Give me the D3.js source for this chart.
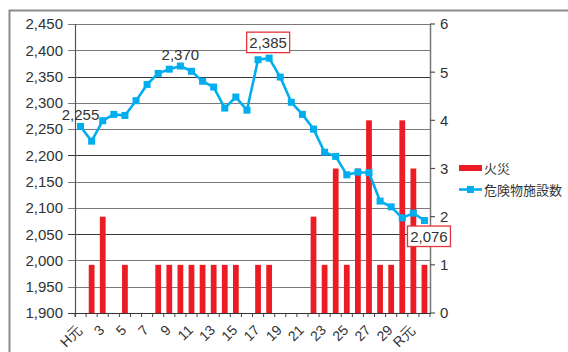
<!DOCTYPE html>
<html><head><meta charset="utf-8">
<script src="https://cdn.jsdelivr.net/npm/d3@7/dist/d3.min.js"></script>
<style>
html,body{margin:0;padding:0;background:#fff;}
svg{display:block;font-family:"Liberation Sans",Arial,sans-serif;}
</style></head>
<body>
<svg id="chart" width="568" height="352"></svg>
<script>
const categories = ["H元","2","3","4","5","6","7","8","9","10","11","12","13","14","15","16","17","18","19","20","21","22","23","24","25","26","27","28","29","30","R元","2"];
const fires = [0,1,2,0,1,0,0,1,1,1,1,1,1,1,1,0,1,1,0,0,0,2,1,3,1,3,4,1,1,4,3,1];
const facilities = [2255,2227,2266,2278,2276,2304,2335,2356,2364,2370,2360,2341,2330,2290,2311,2286,2382,2385,2349,2301,2278,2250,2206,2198,2163,2168,2167,2113,2102,2081,2090,2076];
const leftTicks = [1900,1950,2000,2050,2100,2150,2200,2250,2300,2350,2400,2450];
const rightTicks = [0,1,2,3,4,5,6];
const seriesNames = ["火災","危険物施設数"];
const plainLabels = [0, 9];       // indices with plain value labels
const boxedLabels = [17, 31];     // indices with boxed value labels

const svg = d3.select("#chart");
const L = 75, R = 430, T = 24, B = 313;
const textCol = "#333";

// outer frame
svg.append("path").attr("d", `M9.5,360V10.5H580`).attr("fill","none").attr("stroke","#8c8c8c").attr("stroke-width",2);

const x = d3.scaleBand().domain(d3.range(categories.length)).range([L, R]).paddingInner(0).paddingOuter(0);
const yL = d3.scaleLinear().domain([1900, 2450]).range([B, T]);
const yR = d3.scaleLinear().domain([0, 6]).range([B, T]);

// gridlines
svg.append("g").selectAll("line").data(leftTicks).join("line")
  .attr("x1", L - 7).attr("x2", R)
  .attr("y1", d => Math.round(yL(d)) + 0.5).attr("y2", d => Math.round(yL(d)) + 0.5)
  .attr("stroke", (d,i) => i % 3 === 0 ? "#3a3a3a" : "#7a7a7a").attr("stroke-width", 1.2);

// left axis labels
svg.append("g").selectAll("text").data(leftTicks).join("text")
  .attr("x", L - 12).attr("y", d => yL(d)).attr("dy", "0.36em")
  .attr("text-anchor", "end").attr("font-size", 15).attr("fill", textCol)
  .text(d => d3.format(",")(d));

// bars
const bw = x.bandwidth() * 0.52;
svg.append("g").selectAll("rect").data(fires).join("rect")
  .attr("x", (d,i) => x(i) + (x.bandwidth() - bw) / 2)
  .attr("width", bw)
  .attr("y", d => yR(d)).attr("height", d => yR(0) - yR(d))
  .attr("fill", "#ec1c24");

// axis lines
svg.append("line").attr("x1", L + 0.5).attr("x2", L + 0.5).attr("y1", T).attr("y2", B + 4).attr("stroke", "#555").attr("stroke-width", 1.2);
svg.append("line").attr("x1", R + 0.5).attr("x2", R + 0.5).attr("y1", T).attr("y2", B).attr("stroke", "#777").attr("stroke-width", 1.5);
svg.append("line").attr("x1", L).attr("x2", R + 1).attr("y1", B + 0.5).attr("y2", B + 0.5).attr("stroke", "#333").attr("stroke-width", 1.2);

// x tick marks at band boundaries
svg.append("g").selectAll("line").data(d3.range(categories.length + 1)).join("line")
  .attr("x1", i => L + i * x.step()).attr("x2", i => L + i * x.step())
  .attr("y1", B).attr("y2", B + 4).attr("stroke", "#444").attr("stroke-width", 1);

// right axis ticks and labels
svg.append("g").selectAll("line").data(rightTicks).join("line")
  .attr("x1", R).attr("x2", R + 5).attr("y1", d => yR(d)).attr("y2", d => yR(d))
  .attr("stroke", "#555").attr("stroke-width", 1.2);
svg.append("g").selectAll("text").data(rightTicks).join("text")
  .attr("x", R + 10).attr("y", d => yR(d)).attr("dy", "0.36em")
  .attr("font-size", 15).attr("fill", textCol).text(d => d);

// x labels
svg.append("g").selectAll("text").data(d3.range(0, categories.length, 2)).join("text")
  .attr("transform", i => `translate(${x(i) + x.bandwidth()/2 - 5},${B + 10.5}) rotate(-45)`)
  .attr("text-anchor", "end").attr("dy", "0.75em")
  .attr("font-size", 14).attr("fill", textCol)
  .text(i => categories[i]);

// line
const cx = i => x(i) + x.bandwidth() / 2;
svg.append("path").datum(facilities)
  .attr("d", d3.line().x((d,i) => cx(i)).y(d => yL(d)))
  .attr("fill", "none").attr("stroke", "#00aeef").attr("stroke-width", 2.6).attr("stroke-linejoin", "round");
const ms = 7;
svg.append("g").selectAll("rect").data(facilities).join("rect")
  .attr("x", (d,i) => cx(i) - ms/2).attr("y", d => yL(d) - ms/2)
  .attr("width", ms).attr("height", ms).attr("fill", "#00aeef");

// plain data labels
svg.append("g").selectAll("text").data(plainLabels).join("text")
  .attr("x", i => cx(i)).attr("y", i => yL(facilities[i]) - 6)
  .attr("text-anchor", "middle").attr("font-size", 15).attr("fill", textCol)
  .text(i => d3.format(",")(facilities[i]));

// boxed data labels
boxedLabels.forEach((i, k) => {
  const above = k === 0;
  const bwid = 43, bh = 20.5;
  const bx = cx(i) + (above ? -1 : 4.5) - bwid / 2;
  const by = above ? yL(facilities[i]) - 5.5 - bh : yL(facilities[i]) + 5.5;
  svg.append("rect").attr("x", bx).attr("y", by).attr("width", bwid).attr("height", bh)
    .attr("fill", "#fff").attr("stroke", "#e8343a").attr("stroke-width", 1.3);
  svg.append("text").attr("x", bx + bwid / 2).attr("y", by + bh / 2).attr("dy", "0.36em")
    .attr("text-anchor", "middle").attr("font-size", 15).attr("fill", textCol)
    .text(d3.format(",")(facilities[i]));
});

// legend
const lg = svg.append("g").attr("transform", "translate(459,0)");
lg.append("rect").attr("x", 0).attr("y", 165).attr("width", 23).attr("height", 6).attr("fill", "#ec1c24");
lg.append("text").attr("x", 25).attr("y", 168).attr("dy", "0.36em").attr("font-size", 13).attr("fill", textCol)
  .attr("font-family", "'Noto Sans CJK JP',sans-serif").text(seriesNames[0]);
lg.append("line").attr("x1", 0).attr("x2", 23).attr("y1", 189.5).attr("y2", 189.5).attr("stroke", "#00aeef").attr("stroke-width", 2.6);
lg.append("rect").attr("x", 11.5 - 3.5).attr("y", 186).attr("width", 7).attr("height", 7).attr("fill", "#00aeef");
lg.append("text").attr("x", 25).attr("y", 190).attr("dy", "0.36em").attr("font-size", 13).attr("fill", textCol)
  .attr("font-family", "'Noto Sans CJK JP',sans-serif").text(seriesNames[1]);
</script>
</body></html>
